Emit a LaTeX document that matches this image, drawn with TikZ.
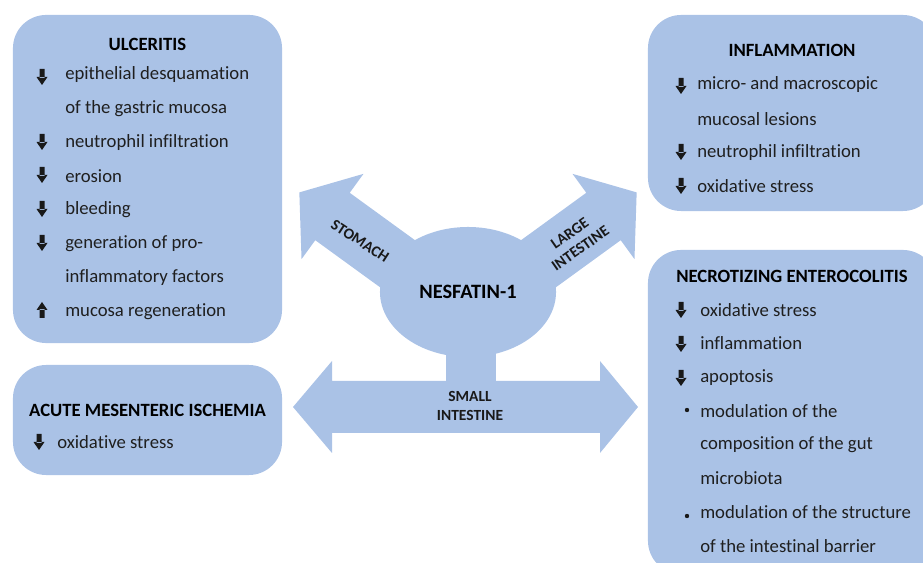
\documentclass[tikz,border=0pt]{standalone}
\usepackage{fontspec}
\setmainfont{Carlito}[Ligatures=NoCommon]
\usetikzlibrary{shapes.geometric}
\definecolor{nesblue}{RGB}{170,194,230}
\tikzset
{
    panel/.style      = {rectangle, rounded corners=0.83cm, fill=nesblue, inner sep=0pt},
    heading/.style    = {inner sep=0pt, font=\fontsize{13.3}{16}\selectfont\bfseries, text=black},
    item/.style       = {anchor=west, inner sep=0pt, font=\fontsize{13.3}{16}\selectfont, text=black!88},
    organ/.style      = {align=center, inner sep=0pt, font=\fontsize{11}{13}\selectfont\bfseries, text=black!90},
    darrow/.pic       = {\fill[black!90] (-2.5,-8) rectangle (2.5,1) (-5.5,0) -- (5.5,0) -- (0,8) -- cycle;},
    uarrow/.pic       = {\fill[black!90] (-2.5,8) rectangle (2.5,-1) (-5.5,0) -- (5.5,0) -- (0,-8) -- cycle;},
    blockarrow/.pic   = {\fill[nesblue] (-120,-29.3) -- (0,-29.3) -- (0,-52.7) -- (41,0) -- (0,52.7) -- (0,29.3) -- (-120,29.3) -- cycle;}
}

\begin{document}
\begin{tikzpicture}[x=0.025cm, y=-0.025cm]
\useasboundingbox (0,0) rectangle (923,563);
\clip (0,0) rectangle (923,563);

% panels
\node (ulc)	[panel, minimum width=6.725cm, minimum height=8.2cm]		at (147.5,179)	{};
\node (ami)	[panel, minimum width=6.725cm, minimum height=2.75cm]		at (147.5,420)	{};
\node (inf)	[panel, minimum width=7.2cm, minimum height=4.9cm]		at (792,113)	{};
\node (nec)	[panel, minimum width=7.2cm, minimum height=8.1cm]		at (792,412)	{};

% centre
\pic[rotate=144]	at (332.5,216.5)	{blockarrow};
\pic[rotate=36]		at (603.5,216.5)	{blockarrow};
\fill[nesblue] (446,330) rectangle (496,385);
\fill[nesblue] (293,407) -- (332,361) -- (332,381) -- (600,381) -- (600,361) -- (638,407)
	-- (600,453) -- (600,433) -- (332,433) -- (332,453) -- cycle;
\node (nes)	[ellipse, fill=nesblue, minimum width=4.4cm, minimum height=3.25cm, inner sep=0pt,
	font=\fontsize{14.5}{16}\selectfont\bfseries]		at (468,292)	{NESFATIN-1};
\node (sto)	[organ, rotate=-33]		at (360,241)	{STOMACH};
\node (lgi)	[organ, rotate=35]		at (575,241)	{LARGE\\INTESTINE};
\node (smi)	[organ]				at (470,406)	{SMALL\\INTESTINE};

% ulceritis
\node (ulct)	[heading]	at (147.5,44)		{ULCERITIS};
\node (ulc1)	[item]		at (65,75)		{epithelial desquamation};
\node (ulc2)	[item]		at (65,108.75)		{of the gastric mucosa};
\node (ulc3)	[item]		at (65,142.5)		{neutrophil infiltration};
\node (ulc4)	[item]		at (65,176.25)		{erosion};
\node (ulc5)	[item]		at (65,210)		{bleeding};
\node (ulc6)	[item]		at (65,243.75)		{generation of pro-};
\node (ulc7)	[item]		at (65,277.5)		{inflammatory factors};
\node (ulc8)	[item]		at (65,311.25)		{mucosa regeneration};
\pic at (42,77)		{darrow};
\pic at (42,142)	{darrow};
\pic at (42,175)	{darrow};
\pic at (42,209)	{darrow};
\pic at (42,243)	{darrow};
\pic at (42,310)	{uarrow};

% acute mesenteric ischemia
\node (amit)	[heading]	at (147.5,410)		{ACUTE MESENTERIC ISCHEMIA};
\node (ami1)	[item]		at (57,442)		{oxidative stress};
\pic at (39,442)	{darrow};

% inflammation
\node (inft)	[heading]	at (792,50)		{INFLAMMATION};
\node (inf1)	[item]		at (697,85)		{micro- and macroscopic};
\node (inf2)	[item]		at (697,118.75)		{mucosal lesions};
\node (inf3)	[item]		at (697,152.5)		{neutrophil infiltration};
\node (inf4)	[item]		at (697,186.25)		{oxidative stress};
\pic at (681,86)	{darrow};
\pic at (681,152)	{darrow};
\pic at (681,186)	{darrow};

% necrotizing enterocolitis
\node (nect)	[heading]	at (792,276)		{NECROTIZING ENTEROCOLITIS};
\node (nec1)	[item]		at (700,309.75)		{oxidative stress};
\node (nec2)	[item]		at (700,343.5)		{inflammation};
\node (nec3)	[item]		at (700,377.25)		{apoptosis};
\node (nec4)	[item]		at (700,411)		{modulation of the};
\node (nec5)	[item]		at (700,444.75)		{composition of the gut};
\node (nec6)	[item]		at (700,478.5)		{microbiota};
\node (nec7)	[item]		at (700,512.25)		{modulation of the structure};
\node (nec8)	[item]		at (700,546)		{of the intestinal barrier};
\pic at (681,310)	{darrow};
\pic at (681,344)	{darrow};
\pic at (681,378)	{darrow};
\fill[black!90] (687,410) circle [radius=2.2];
\fill[black!90] (687,516) circle [radius=2.2];

\end{tikzpicture}
\end{document}
